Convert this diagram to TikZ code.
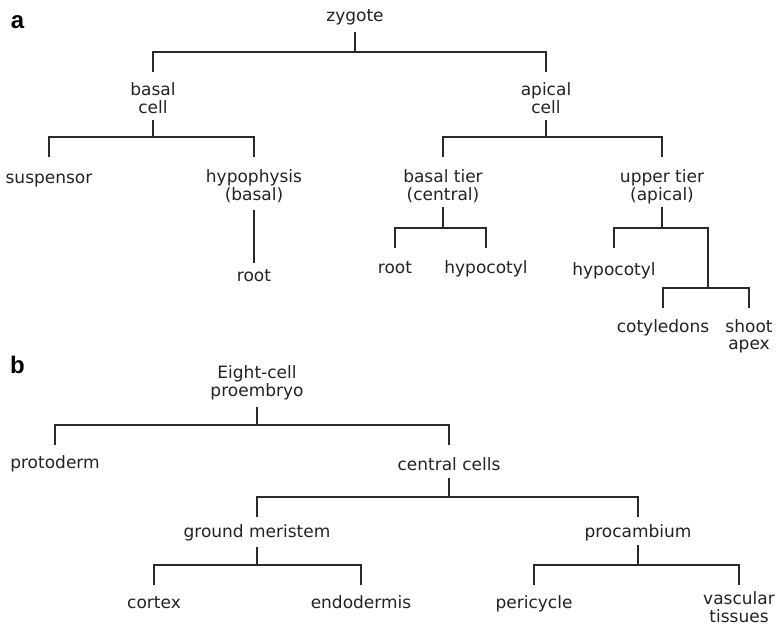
\documentclass[tikz,border=0pt]{standalone}
\usepackage{fontspec}
\setmainfont{DejaVu Sans}
\newfontfamily\labfont{Liberation Sans}
\definecolor{txtc}{HTML}{222222}
\definecolor{linec}{HTML}{2A2A2A}
\newcommand\st{\rule[-4.2pt]{0pt}{17pt}}
\tikzset{
  lbl/.style={font=\fontsize{17}{17}\selectfont, text=txtc, inner sep=0pt, outer sep=0pt, align=center, anchor=center},
  panel/.style={font=\labfont\bfseries\fontsize{24}{24}\selectfont, text=black, inner sep=0pt, anchor=base west},
  ln/.style={draw=linec, line width=1.4pt}
}
\begin{document}
\begin{tikzpicture}[x=1pt,y=-1pt]
\useasboundingbox (0,0) rectangle (778,627);
% ---------- panel a ----------
\node[panel] (la) at (10.7,28) {a};
\node[lbl] (zyg) at (355,16.7) {\st zygote};
\node[lbl] (basal) at (153,100.2) {\st basal\\\st cell};
\node[lbl] (apical) at (546,100.2) {\st apical\\\st cell};
\node[lbl] (susp) at (49,178.7) {\st suspensor};
\node[lbl] (hypo) at (254,187.2) {\st hypophysis\\\st (basal)};
\node[lbl] (root1) at (254,276.7) {\st root};
\node[lbl] (btier) at (443,187.2) {\st basal tier\\\st (central)};
\node[lbl] (utier) at (662,187.2) {\st upper tier\\\st (apical)};
\node[lbl] (root2) at (395,268.7) {\st root};
\node[lbl] (hyp1) at (486,268.7) {\st hypocotyl};
\node[lbl] (hyp2) at (614,270.7) {\st hypocotyl};
\node[lbl] (coty) at (663,327.7) {\st cotyledons};
\node[lbl] (shoot) at (749,336.2) {\st shoot\\\st apex};
\coordinate (j) at (708,288);

\draw[ln] (zyg |- 0,32) -- (zyg |- 0,52);
\draw[ln] (basal |- 0,72) -- (basal |- 0,52) -- (apical |- 0,52) -- (apical |- 0,72);
\draw[ln] (basal |- 0,120) -- (basal |- 0,137);
\draw[ln] (susp |- 0,157) -- (susp |- 0,137) -- (hypo |- 0,137) -- (hypo |- 0,157);
\draw[ln] (hypo |- 0,210) -- (root1 |- 0,263);
\draw[ln] (apical |- 0,120) -- (apical |- 0,137);
\draw[ln] (btier |- 0,157) -- (btier |- 0,137) -- (utier |- 0,137) -- (utier |- 0,157);
\draw[ln] (btier |- 0,207) -- (btier |- 0,228);
\draw[ln] (root2 |- 0,248) -- (root2 |- 0,228) -- (hyp1 |- 0,228) -- (hyp1 |- 0,248);
\draw[ln] (utier |- 0,207) -- (utier |- 0,228);
\draw[ln] (hyp2 |- 0,248) -- (hyp2 |- 0,228) -- (j |- 0,228) -- (j);
\draw[ln] (coty |- 0,308) -- (coty |- 0,288) -- (shoot |- 0,288) -- (shoot |- 0,308);

% ---------- panel b ----------
\node[panel] (lb) at (10,373) {b};
\node[lbl] (eight) at (257,383.2) {\st Eight-cell\\\st proembryo};
\node[lbl] (proto) at (55,463.7) {\st protoderm};
\node[lbl] (central) at (449,465.7) {\st central cells};
\node[lbl] (ground) at (257,532.7) {\st ground meristem};
\node[lbl] (procamb) at (638,532.7) {\st procambium};
\node[lbl] (cortex) at (154,603.7) {\st cortex};
\node[lbl] (endo) at (361,603.7) {\st endodermis};
\node[lbl] (peri) at (534,603.7) {\st pericycle};
\node[lbl] (vasc) at (739,609.2) {\st vascular\\\st tissues};

\draw[ln] (eight |- 0,407) -- (eight |- 0,425);
\draw[ln] (proto |- 0,445) -- (proto |- 0,425) -- (central |- 0,425) -- (central |- 0,445);
\draw[ln] (central |- 0,478) -- (central |- 0,497);
\draw[ln] (ground |- 0,517) -- (ground |- 0,497) -- (procamb |- 0,497) -- (procamb |- 0,517);
\draw[ln] (ground |- 0,547) -- (ground |- 0,565);
\draw[ln] (cortex |- 0,585) -- (cortex |- 0,565) -- (endo |- 0,565) -- (endo |- 0,585);
\draw[ln] (procamb |- 0,545) -- (procamb |- 0,565);
\draw[ln] (peri |- 0,585) -- (peri |- 0,565) -- (vasc |- 0,565) -- (vasc |- 0,585);
\end{tikzpicture}
\end{document}
